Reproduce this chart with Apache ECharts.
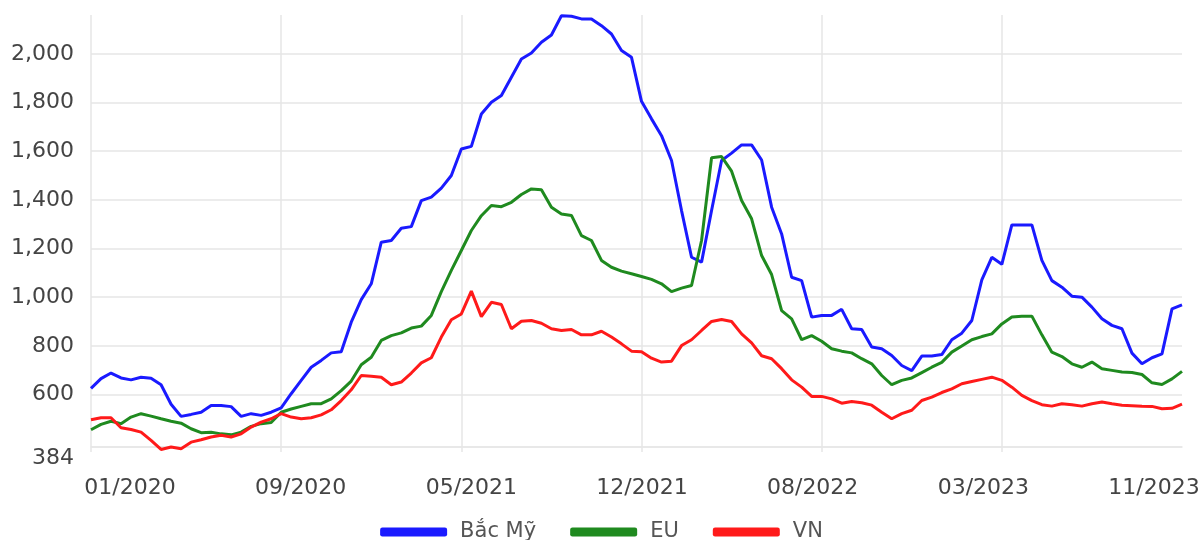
<!DOCTYPE html>
<html lang="vi">

<head>
  <meta charset="UTF-8">
  <title>Giá cước: Bắc Mỹ, EU, VN</title>
  <script src="https://cdn.jsdelivr.net/npm/echarts@6/dist/echarts.min.js"></script>
</head>

<body style="margin:0">
  <div id="chart" style="width: 1203px; height: 540px;"></div>

  <script>
    // nhãn trục hoành và vị trí (chỉ số điểm) của các mốc tháng
    var tickLabels = ['01/2020', '09/2020', '05/2021', '12/2021', '08/2022', '03/2023', '11/2023'];
    var markIdx = [0, 19, 37, 55, 73, 91, 109];

    // nhãn trục tung
    var yTicks = [384, 600, 800, 1000, 1200, 1400, 1600, 1800, 2000];

    // số liệu (110 điểm mỗi chuỗi)
    var bacMy = [
      625, 665, 688, 668, 660, 671, 667, 640, 560, 510,
      518, 527, 555, 555, 550, 510, 521, 514, 527, 545,
      603, 658, 712, 740, 771, 776, 897, 990, 1055, 1226,
      1233, 1283, 1290, 1397, 1411, 1448, 1500, 1609, 1620, 1753,
      1801, 1829, 1904, 1979, 2004, 2048, 2078, 2157, 2155, 2144,
      2144, 2116, 2082, 2014, 1986, 1805, 1733, 1664, 1562, 1356,
      1164, 1144, 1356, 1562, 1592, 1626, 1626, 1564, 1370, 1260,
      1082, 1068, 918, 925, 925, 950, 870, 867, 795, 788,
      760, 719, 698, 758, 758, 764, 825, 852, 904, 1071,
      1164, 1135, 1297, 1297, 1297, 1151, 1068, 1041, 1004, 1000,
      959, 911, 884, 870, 770, 726, 751, 767, 952, 968
    ];
    var eu = [
      455, 477, 490, 480, 507, 521, 511, 500, 490, 482,
      459, 443, 445, 438, 434, 445, 469, 480, 485, 527,
      540, 551, 562, 562, 582, 616, 655, 722, 753, 822,
      842, 853, 873, 881, 925, 1023, 1110, 1192, 1274, 1335,
      1377, 1372, 1390, 1422, 1445, 1442, 1370, 1342, 1336, 1253,
      1233, 1151, 1123, 1107, 1096, 1085, 1073, 1055, 1023, 1037,
      1048, 1233, 1573, 1578, 1518, 1397, 1322, 1171, 1093, 945,
      911, 825, 842, 819, 788, 778, 771, 747, 726, 678,
      640, 658, 668, 690, 712, 732, 774, 799, 825, 838,
      849, 890, 918, 922, 922, 845, 774, 756, 726, 712,
      733, 706, 699, 692, 690, 682, 648, 641, 664, 695
    ];
    var vn = [
      496, 504, 504, 463, 456, 445, 411, 374, 384, 377,
      404, 414, 425, 432, 425, 438, 466, 486, 500, 521,
      507, 500, 504, 516, 537, 575, 619, 678, 675, 671,
      640, 651, 688, 730, 751, 836, 907, 931, 1025, 920,
      979, 970, 870, 901, 904, 893, 870, 863, 867, 845,
      845, 860, 836, 808, 778, 776, 749, 733, 737, 801,
      825, 863, 900, 908, 900, 849, 812, 759, 747, 706,
      660, 630, 592, 592, 582, 564, 571, 566, 556, 527,
      500, 521, 535, 575, 589, 608, 623, 644, 653, 662,
      671, 658, 630, 596, 575, 558, 552, 562, 558, 552,
      562, 569, 562, 556, 554, 552, 551, 541, 543, 560
    ];

    var font = 'DejaVu Sans';
    var gridColor = '#e6e6e6';

    var cats = bacMy.map(function (v, i) { return String(i); });

    function onMark(i) {
      return markIdx.indexOf(i) >= 0 && i < cats.length - 1;
    }

    var myChart = echarts.init(document.getElementById('chart'));

    myChart.setOption({
      animation: false,
      grid: [
        { left: 91, right: 21, top: 15, bottom: 93 },
        { left: 130, right: 49, top: 15, bottom: 93 }
      ],
      legend: {
        data: ['Bắc Mỹ', 'EU', 'VN'],
        icon: 'roundRect',
        itemWidth: 67,
        itemHeight: 9,
        itemGap: 34,
        left: 'center',
        top: 516,
        textStyle: {
          fontFamily: font,
          fontSize: 21,
          color: '#555',
          lineHeight: 22,
          padding: [0, 0, 0, 8]
        }
      },
      xAxis: [
        {
          type: 'category',
          gridIndex: 0,
          data: cats,
          boundaryGap: false,
          axisLine: { show: true, lineStyle: { color: gridColor, width: 1.5 } },
          axisTick: { show: true, length: 5, interval: onMark, lineStyle: { color: gridColor, width: 1.5 } },
          axisLabel: { show: false },
          splitLine: { show: true, interval: onMark, lineStyle: { color: gridColor, width: 1.5 } }
        },
        {
          // nhãn tháng (xếp đều theo hình gốc)
          type: 'category',
          gridIndex: 1,
          data: tickLabels,
          boundaryGap: false,
          axisLine: { show: false },
          axisTick: { show: false },
          splitLine: { show: false },
          axisLabel: { interval: 0, margin: 30, fontFamily: font, fontSize: 22, color: '#444' }
        }
      ],
      yAxis: [
        {
          type: 'value',
          gridIndex: 0,
          min: 384,
          max: 2160,
          axisLine: { show: false },
          axisTick: { show: false, customValues: yTicks },
          axisLabel: {
            customValues: yTicks,
            margin: 17,
            fontFamily: font,
            fontSize: 22,
            color: '#444',
            verticalAlignMinLabel: 'top',
            formatter: function (v) { return v.toLocaleString('en-US'); }
          },
          splitLine: { show: true, lineStyle: { color: gridColor, width: 1.5 } }
        },
        { type: 'value', gridIndex: 1, show: false }
      ],
      series: [
        { name: 'Bắc Mỹ', type: 'line', data: bacMy, showSymbol: false, clip: false, color: '#1a1aff', lineStyle: { width: 3 } },
        { name: 'EU', type: 'line', data: eu, showSymbol: false, clip: false, color: '#1f8a1f', lineStyle: { width: 3 } },
        { name: 'VN', type: 'line', data: vn, showSymbol: false, clip: false, color: '#ff1a1a', lineStyle: { width: 3 } }
      ]
    });
  </script>
</body>

</html>
